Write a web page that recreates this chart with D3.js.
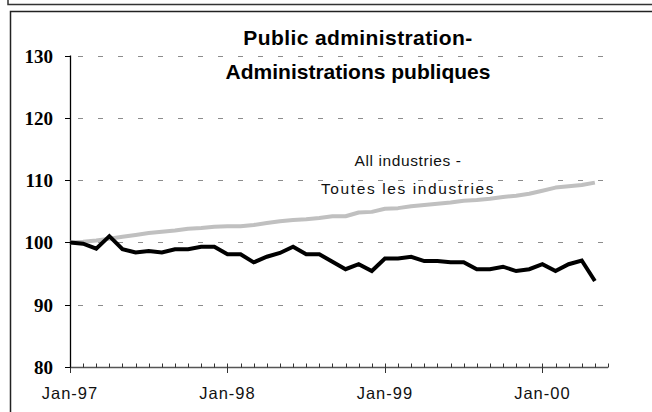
<!DOCTYPE html>
<html><head><meta charset="utf-8">
<script src="https://cdn.jsdelivr.net/npm/d3@7"></script>
<style>body{margin:0;background:#fff}svg{display:block}</style>
</head><body>
<svg id="c" width="652" height="412"></svg>
<script>
const title = ["Public administration-", "Administrations publiques"];
const seriesNames = ["All industries -", "Toutes les industries"];
const xTickLabels = ["Jan-97", "Jan-98", "Jan-99", "Jan-00"];
const xTickIndex = [0, 12, 24, 36];
const yTicks = [80, 90, 100, 110, 120, 130];
const allIndustries = [100,100.1,100.3,100.6,100.9,101.2,101.5,101.7,101.9,102.2,102.3,102.5,102.6,102.6,102.8,103.1,103.4,103.6,103.7,103.9,104.2,104.2,104.8,104.9,105.4,105.5,105.8,106.0,106.2,106.4,106.7,106.8,107.0,107.3,107.5,107.8,108.3,108.8,109.0,109.2,109.6];
const publicAdmin = [100,99.8,99.0,101.0,98.9,98.4,98.6,98.4,98.9,98.9,99.3,99.3,98.1,98.1,96.8,97.7,98.3,99.3,98.1,98.1,96.9,95.7,96.5,95.4,97.4,97.4,97.7,97.0,97.0,96.8,96.8,95.7,95.7,96.1,95.4,95.7,96.5,95.4,96.5,97.1,93.8];

const svg = d3.select("#c");
// frames
svg.append("path").attr("d","M8,0 V4.5 H652").attr("fill","none").attr("stroke","#333").attr("stroke-width",1.5);
svg.append("path").attr("d","M10.5,412 V11.5 H652").attr("fill","none").attr("stroke","#222").attr("stroke-width",1.5);

const x = d3.scaleLinear().domain([0, 41]).range([70, 608]);
const y = d3.scaleLinear().domain([80, 130]).range([367, 55.5]);

// gridlines
svg.append("g").selectAll("line").data(yTicks.filter(d=>d>80)).join("line")
  .attr("x1", x(0)).attr("x2", x(41)).attr("y1", d=>Math.round(y(d))+0.5).attr("y2", d=>Math.round(y(d))+0.5)
  .attr("stroke","#8c8c8c").attr("stroke-width",1.2).attr("stroke-dasharray","5,15").attr("stroke-dashoffset",-8);

// x axis
const xa = svg.append("g");
xa.append("line").attr("x1",x(0)).attr("x2",x(41)).attr("y1",367.5).attr("y2",367.5).attr("stroke","#555").attr("stroke-width",1.3);
xa.selectAll("line.mn").data(d3.range(0,42)).join("line").attr("class","mn")
  .attr("x1",d=>Math.round(x(d))+0.5).attr("x2",d=>Math.round(x(d))+0.5)
  .attr("y1",363.5).attr("y2",d=>xTickIndex.includes(d)?373:367.5).attr("stroke","#333").attr("stroke-width",1);
xa.selectAll("text").data(xTickIndex).join("text")
  .attr("x",d=>x(d)).attr("y",399).attr("text-anchor","middle")
  .attr("font-family","Liberation Sans, Arial, sans-serif").attr("font-size",16.5).attr("letter-spacing",1)
  .attr("fill","#111").text((d,i)=>xTickLabels[i]);

// y axis
const ya = svg.append("g");
ya.append("line").attr("x1",70.5).attr("x2",70.5).attr("y1",y(130)).attr("y2",y(80)).attr("stroke","#000").attr("stroke-width",1.3);
ya.selectAll("line.t").data(yTicks).join("line").attr("class","t")
  .attr("x1",65).attr("x2",70.5).attr("y1",d=>Math.round(y(d))+0.5).attr("y2",d=>Math.round(y(d))+0.5)
  .attr("stroke","#000").attr("stroke-width",1);
ya.selectAll("text").data(yTicks).join("text")
  .attr("x",53).attr("y",d=>y(d)+7).attr("text-anchor","end")
  .attr("font-family","Liberation Serif, Times New Roman, serif").attr("font-weight","bold").attr("font-size",19)
  .attr("fill","#000").text(d=>d);

// lines
const line = d3.line().x((d,i)=>x(i)).y(d=>y(d));
svg.append("path").datum(allIndustries).attr("d",line).attr("fill","none").attr("stroke","#c0c0c0").attr("stroke-width",4).attr("stroke-linejoin","round");
svg.append("path").datum(publicAdmin).attr("d",line).attr("fill","none").attr("stroke","#000").attr("stroke-width",4).attr("stroke-linejoin","miter");

// title
svg.append("g").selectAll("text").data(title).join("text")
  .attr("x",358).attr("y",(d,i)=>45+i*34).attr("text-anchor","middle")
  .attr("font-family","Liberation Sans, Arial, sans-serif").attr("font-weight","bold").attr("font-size",21)
  .attr("letter-spacing",(d,i)=>i===0?0.4:0)
  .attr("fill","#000").text(d=>d);

// annotation
svg.append("g").selectAll("text").data(seriesNames).join("text")
  .attr("x",408).attr("y",(d,i)=>166+i*28).attr("text-anchor","middle")
  .attr("font-family","Liberation Sans, Arial, sans-serif").attr("font-size",15.5)
  .attr("letter-spacing",(d,i)=>i===0?0.6:1.6)
  .attr("fill","#111").text(d=>d);
</script>
</body></html>
